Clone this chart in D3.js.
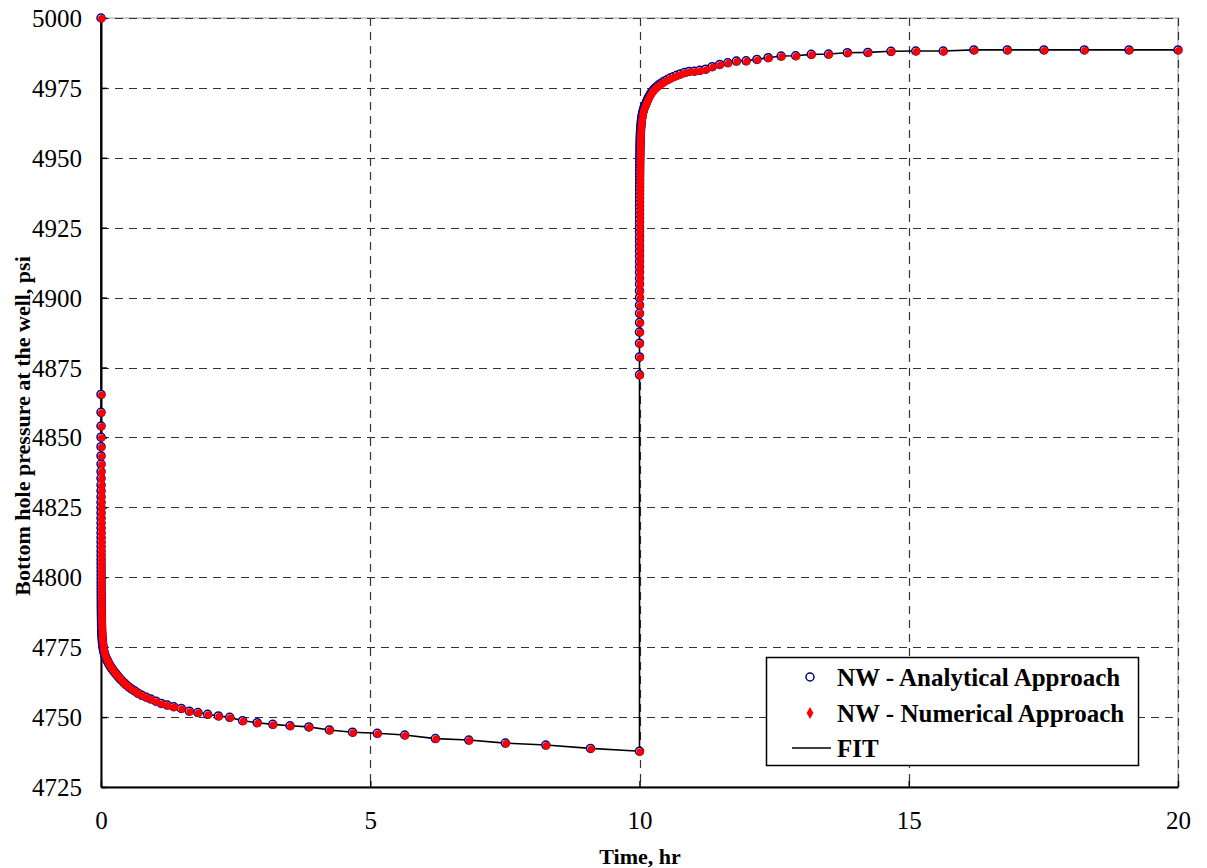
<!DOCTYPE html>
<html>
<head>
<meta charset="utf-8">
<script src="https://cdn.jsdelivr.net/npm/d3@7/dist/d3.min.js"></script>
<style>
  html, body { margin: 0; padding: 0; background: #fff; }
  svg { display: block; }
  svg text { font-family: "Liberation Serif", "Times New Roman", serif; }
</style>
</head>
<body>
<svg id="chart" width="1207" height="868"></svg>
<script>
// Drawdown period: flowing time since the well was opened, hr
const drawdownHours = [
  0, 0.00013, 0.00015, 0.00017, 0.00019, 0.00021, 0.00023, 0.00025, 0.00028, 0.00031,
  0.00034, 0.00037, 0.00041, 0.00045, 0.00050, 0.00055, 0.00060, 0.00066, 0.00073, 0.00080,
  0.00088, 0.00097, 0.0011, 0.0012, 0.0013, 0.0014, 0.0015, 0.0017, 0.0019, 0.0020,
  0.0022, 0.0025, 0.0027, 0.0030, 0.0033, 0.0036, 0.0040, 0.0044, 0.0048, 0.0053,
  0.0058, 0.0064, 0.0070, 0.0077, 0.0085, 0.0093, 0.0103, 0.0113, 0.0124, 0.0136,
  0.0150, 0.0170, 0.0193, 0.022, 0.025, 0.028, 0.032, 0.036, 0.041, 0.047,
  0.053, 0.061, 0.069, 0.078, 0.088, 0.100, 0.113, 0.125, 0.137, 0.151,
  0.166, 0.182, 0.200, 0.220, 0.242, 0.267, 0.293, 0.323, 0.355, 0.39,
  0.43, 0.47, 0.52, 0.57, 0.63, 0.69, 0.76, 0.84, 0.92, 1.02,
  1.12, 1.23, 1.35, 1.49, 1.64, 1.80, 1.98, 2.18, 2.39, 2.63,
  2.90, 3.19, 3.51, 3.86, 4.24, 4.67, 5.13, 5.64, 6.21, 6.83,
  7.51, 8.26, 9.09, 10.00
];
const drawdownAnalyticalPsi = [
  5000, 4865.4, 4859.0, 4854.1, 4850.1, 4846.7, 4843.4, 4840.5, 4837.8, 4835.4,
  4833.0, 4830.9, 4828.8, 4826.8, 4824.9, 4823.0, 4821.2, 4819.4, 4817.6, 4815.9,
  4814.2, 4812.6, 4811.0, 4809.4, 4807.9, 4806.4, 4805.0, 4803.6, 4802.2, 4800.9,
  4799.6, 4798.3, 4797.1, 4795.9, 4794.7, 4793.6, 4792.5, 4791.4, 4790.4, 4789.4,
  4788.4, 4787.4, 4786.5, 4785.6, 4784.7, 4783.8, 4783.0, 4782.2, 4781.4, 4780.6,
  4779.9, 4779.2, 4778.5, 4777.8, 4777.1, 4776.4, 4775.8, 4775.2, 4774.6, 4774.0,
  4773.4, 4772.8, 4772.3, 4771.8, 4771.3, 4770.8, 4770.4, 4769.9, 4769.4, 4768.9,
  4768.4, 4767.9, 4767.4, 4766.9, 4766.3, 4765.7, 4765.1, 4764.4, 4763.7, 4763.0,
  4762.2, 4761.5, 4760.7, 4760.0, 4759.3, 4758.5, 4757.8, 4757.1, 4756.5, 4755.7,
  4754.9, 4754.3, 4753.7, 4753.1, 4752.1, 4751.6, 4751.0, 4750.4, 4749.9, 4748.7,
  4748.0, 4747.4, 4746.9, 4746.5, 4745.4, 4744.6, 4744.2, 4743.6, 4742.3, 4741.8,
  4740.7, 4740.0, 4738.8, 4737.8
];
const drawdownNumericalPsi = [
  5000, 4865.4, 4859.0, 4854.1, 4850.1, 4846.7, 4843.4, 4840.5, 4837.8, 4835.4,
  4833.0, 4830.9, 4828.8, 4826.8, 4824.9, 4823.0, 4821.2, 4819.4, 4817.6, 4815.9,
  4814.2, 4812.6, 4811.0, 4809.4, 4807.9, 4806.4, 4805.0, 4803.6, 4802.2, 4800.9,
  4799.6, 4798.3, 4797.1, 4795.9, 4794.7, 4793.6, 4792.5, 4791.4, 4790.4, 4789.4,
  4788.4, 4787.4, 4786.5, 4785.6, 4784.7, 4783.8, 4783.0, 4782.2, 4781.4, 4780.6,
  4779.9, 4779.2, 4778.5, 4777.8, 4777.1, 4776.4, 4775.8, 4775.2, 4774.6, 4774.0,
  4773.4, 4772.8, 4772.3, 4771.8, 4771.3, 4770.8, 4770.4, 4769.9, 4769.4, 4768.9,
  4768.4, 4767.9, 4767.4, 4766.9, 4766.3, 4765.7, 4765.1, 4764.4, 4763.7, 4763.0,
  4762.2, 4761.5, 4760.7, 4760.0, 4759.3, 4758.5, 4757.8, 4757.1, 4756.5, 4755.7,
  4754.9, 4754.3, 4753.7, 4753.1, 4752.1, 4751.6, 4751.0, 4750.4, 4749.9, 4748.7,
  4748.0, 4747.4, 4746.9, 4746.5, 4745.4, 4744.6, 4744.2, 4743.6, 4742.3, 4741.8,
  4740.7, 4740.0, 4738.8, 4737.8
];

// Build-up period: shut-in at 10 hr, elapsed shut-in time, hr
const shutInHour = 10;
const buildupElapsedHours = [
  0.00013, 0.00015, 0.00017, 0.00019, 0.00021, 0.00023, 0.00025, 0.00028, 0.00031,
  0.00034, 0.00037, 0.00041, 0.00045, 0.00050, 0.00055, 0.00060, 0.00066, 0.00073, 0.00080,
  0.00088, 0.00097, 0.0011, 0.0012, 0.0013, 0.0014, 0.0015, 0.0017, 0.0019, 0.0020,
  0.0022, 0.0025, 0.0027, 0.0030, 0.0033, 0.0036, 0.0040, 0.0044, 0.0048, 0.0053,
  0.0058, 0.0064, 0.0070, 0.0077, 0.0085, 0.0093, 0.0103, 0.0113, 0.0124, 0.0136,
  0.0150, 0.0170, 0.0193, 0.022, 0.025, 0.028, 0.032, 0.036, 0.041, 0.047,
  0.053, 0.061, 0.069, 0.078, 0.088, 0.100, 0.113, 0.125, 0.137, 0.151,
  0.166, 0.182, 0.200, 0.220, 0.242, 0.267, 0.293, 0.323, 0.355, 0.39,
  0.43, 0.47, 0.52, 0.57, 0.63, 0.69, 0.76, 0.84, 0.92, 1.02,
  1.12, 1.23, 1.35, 1.49, 1.64, 1.80, 1.98, 2.18, 2.39, 2.63,
  2.90, 3.19, 3.51, 3.86, 4.24, 4.67, 5.13, 5.64, 6.21, 6.83,
  7.51, 8.26, 9.09, 10.00
];
const buildupAnalyticalPsi = [
  4872.4, 4878.8, 4883.7, 4887.7, 4891.1, 4894.4, 4897.3, 4900.0, 4902.4,
  4904.8, 4906.9, 4909.0, 4911.0, 4912.9, 4914.8, 4916.6, 4918.4, 4920.2, 4921.9,
  4923.6, 4925.2, 4926.8, 4928.4, 4929.9, 4931.4, 4932.8, 4934.2, 4935.6, 4936.9,
  4938.2, 4939.5, 4940.7, 4941.9, 4943.1, 4944.2, 4945.3, 4946.4, 4947.4, 4948.4,
  4949.4, 4950.4, 4951.3, 4952.2, 4953.1, 4954.0, 4954.8, 4955.6, 4956.4, 4957.2,
  4958.0, 4958.8, 4959.6, 4960.4, 4961.2, 4962.0, 4962.8, 4963.5, 4964.2, 4964.9,
  4965.6, 4966.3, 4966.9, 4967.5, 4968.0, 4968.5, 4969.1, 4969.7, 4970.3, 4970.9,
  4971.5, 4972.1, 4972.7, 4973.3, 4973.9, 4974.5, 4975.0, 4975.5, 4976.0, 4976.5,
  4977.0, 4977.5, 4978.0, 4978.5, 4979.0, 4979.5, 4980.0, 4980.5, 4980.9, 4981.0,
  4981.3, 4981.7, 4982.6, 4983.4, 4984.0, 4984.6, 4984.7, 4985.2, 4985.8, 4986.4,
  4986.5, 4987.0, 4987.1, 4987.6, 4987.7, 4988.1, 4988.2, 4988.2, 4988.6, 4988.6,
  4988.6, 4988.6, 4988.6, 4988.6
];
const buildupNumericalPsi = [
  4872.4, 4878.8, 4883.7, 4887.7, 4891.1, 4894.4, 4897.3, 4900.0, 4902.4,
  4904.8, 4906.9, 4909.0, 4911.0, 4912.9, 4914.8, 4916.6, 4918.4, 4920.2, 4921.9,
  4923.6, 4925.2, 4926.8, 4928.4, 4929.9, 4931.4, 4932.8, 4934.2, 4935.6, 4936.9,
  4938.2, 4939.5, 4940.7, 4941.9, 4943.1, 4944.2, 4945.3, 4946.4, 4947.4, 4948.4,
  4949.4, 4950.4, 4951.3, 4952.2, 4953.1, 4954.0, 4954.8, 4955.6, 4956.4, 4957.2,
  4958.0, 4958.8, 4959.6, 4960.4, 4961.2, 4962.0, 4962.8, 4963.5, 4964.2, 4964.9,
  4965.6, 4966.3, 4966.9, 4967.5, 4968.0, 4968.5, 4969.1, 4969.7, 4970.3, 4970.9,
  4971.5, 4972.1, 4972.7, 4973.3, 4973.9, 4974.5, 4975.0, 4975.5, 4976.0, 4976.5,
  4977.0, 4977.5, 4978.0, 4978.5, 4979.0, 4979.5, 4980.0, 4980.5, 4980.9, 4981.0,
  4981.3, 4981.7, 4982.6, 4983.4, 4984.0, 4984.6, 4984.7, 4985.2, 4985.8, 4986.4,
  4986.5, 4987.0, 4987.1, 4987.6, 4987.7, 4988.1, 4988.2, 4988.2, 4988.6, 4988.6,
  4988.6, 4988.6, 4988.6, 4988.6
];

// Axis ticks and labels
const xTicks = [0, 5, 10, 15, 20];
const yTicks = [4725, 4750, 4775, 4800, 4825, 4850, 4875, 4900, 4925, 4950, 4975, 5000];
const xTitle = "Time, hr";
const yTitle = "Bottom hole pressure at the well, psi";
const legendLabels = ["NW - Analytical Approach", "NW - Numerical Approach", "FIT"];

const SERIF = '"Liberation Serif", "Times New Roman", serif';

// ---- build point records ----
const analytical = drawdownHours.map((t, i) => ({ t, p: drawdownAnalyticalPsi[i] }))
  .concat(buildupElapsedHours.map((dt, i) => ({ t: shutInHour + dt, p: buildupAnalyticalPsi[i] })));
const numerical = drawdownHours.map((t, i) => ({ t, p: drawdownNumericalPsi[i] }))
  .concat(buildupElapsedHours.map((dt, i) => ({ t: shutInHour + dt, p: buildupNumericalPsi[i] })));

const svg = d3.select("#chart");
const plot = { left: 101, right: 1178, top: 18, bottom: 787 };

const x = d3.scaleLinear().domain([0, 20]).range([plot.left, plot.right]);
const y = d3.scaleLinear().domain([4725, 5000]).range([plot.bottom, plot.top]);

// plot frame (top/right edges are light)
svg.append("rect")
  .attr("x", plot.left).attr("y", plot.top)
  .attr("width", plot.right - plot.left).attr("height", plot.bottom - plot.top)
  .attr("fill", "#fff").attr("stroke", "#9a9a9a").attr("stroke-width", 1);

// dashed grid
const grid = svg.append("g").attr("stroke", "#333").attr("stroke-width", 1.2)
  .attr("stroke-dasharray", "8,6");
grid.selectAll(".gy").data(yTicks.filter(v => v > 4725)).join("line")
  .attr("x1", plot.left).attr("x2", plot.right)
  .attr("y1", d => Math.round(y(d)) + 0.5).attr("y2", d => Math.round(y(d)) + 0.5);
grid.selectAll(".gx").data(xTicks.filter(v => v > 0)).join("line")
  .attr("y1", plot.top).attr("y2", plot.bottom)
  .attr("x1", d => Math.round(x(d)) + 0.5).attr("x2", d => Math.round(x(d)) + 0.5);

// axes
const fmt = d3.format("d");
const xAxis = d3.axisBottom(x).tickValues(xTicks).tickFormat(fmt)
  .tickSizeInner(-6).tickSizeOuter(0).tickPadding(24);
const yAxis = d3.axisLeft(y).tickValues(yTicks).tickFormat(fmt)
  .tickSizeInner(-6).tickSizeOuter(0).tickPadding(19);

const gx = svg.append("g").attr("transform", `translate(0,${plot.bottom})`).call(xAxis);
const gy = svg.append("g").attr("transform", `translate(${plot.left},0)`).call(yAxis);
[gx, gy].forEach(g => {
  g.attr("font-family", SERIF).attr("font-size", 25);
  g.select(".domain").attr("stroke", "#000").attr("stroke-width", 2);
  g.selectAll(".tick line").attr("stroke", "#000").attr("stroke-width", 1.5);
  g.selectAll(".tick text").attr("fill", "#000")
    .attr("font-family", SERIF).attr("font-size", 25);
});
gx.selectAll(".tick text").attr("dy", "0.71em");
gy.selectAll(".tick text").attr("dy", "0.34em");

// fit line through the series in time order
const line = d3.line().x(d => x(d.t)).y(d => y(d.p));
svg.append("path").datum(analytical)
  .attr("d", line).attr("fill", "none").attr("stroke", "#000").attr("stroke-width", 1.6);

// analytical markers: open navy circles
svg.append("g").selectAll("circle").data(analytical).join("circle")
  .attr("cx", d => x(d.t)).attr("cy", d => y(d.p)).attr("r", 4)
  .attr("fill", "#fff").attr("stroke", "#000080").attr("stroke-width", 1.5);

// numerical markers: red dots on top
svg.append("g").selectAll("circle").data(numerical).join("circle")
  .attr("cx", d => x(d.t) + 0.7).attr("cy", d => y(d.p) + 0.7).attr("r", 3.7)
  .attr("fill", "#ff0000");

// axis titles
svg.append("text").attr("x", 640).attr("y", 864)
  .attr("text-anchor", "middle").attr("font-family", SERIF)
  .attr("font-size", 22).attr("font-weight", "bold")
  .text(xTitle);
svg.append("text")
  .attr("transform", `translate(30,426) rotate(-90)`)
  .attr("text-anchor", "middle").attr("font-family", SERIF)
  .attr("font-size", 22).attr("font-weight", "bold")
  .text(yTitle);

// legend
const lg = svg.append("g");
lg.append("rect").attr("x", 766.5).attr("y", 657.5).attr("width", 372).attr("height", 108)
  .attr("fill", "#fff").attr("stroke", "#000").attr("stroke-width", 1.5);
const rowY = [677, 713, 748];
lg.append("circle").attr("cx", 810).attr("cy", rowY[0]).attr("r", 4)
  .attr("fill", "#fff").attr("stroke", "#000080").attr("stroke-width", 1.5);
lg.append("path").attr("transform", `translate(810,${rowY[1]})`)
  .attr("d", d3.symbol(d3.symbolDiamond, 40)()).attr("fill", "#ff0000");
lg.append("line").attr("x1", 792).attr("x2", 831).attr("y1", rowY[2]).attr("y2", rowY[2])
  .attr("stroke", "#000").attr("stroke-width", 1.6);
lg.selectAll("text").data(legendLabels).join("text")
  .attr("x", 837).attr("y", (d, i) => rowY[i]).attr("dy", "0.35em")
  .attr("font-family", SERIF).attr("font-size", 25).attr("font-weight", "bold")
  .text(d => d);
</script>
</body>
</html>
